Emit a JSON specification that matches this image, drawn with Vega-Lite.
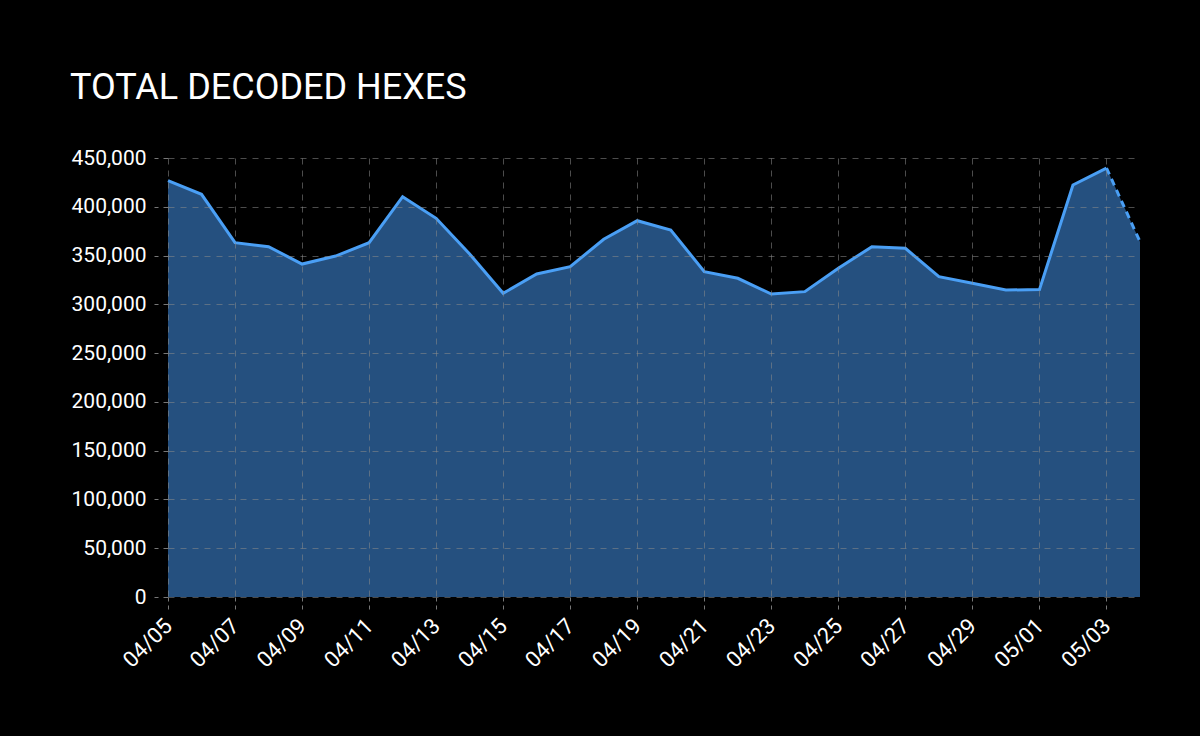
{
  "$schema": "https://vega.github.io/schema/vega-lite/v6.json",
  "autosize": {"type": "none"},
  "width": 972,
  "height": 439,
  "padding": {"left": 168, "top": 158, "right": 60, "bottom": 139},
  "background": "#000000",
  "config": {"view": {"stroke": null}, "font": "Roboto"},
  "title": {
    "text": "TOTAL DECODED HEXES",
    "anchor": "start",
    "frame": "group",
    "dx": -98,
    "offset": 40,
    "color": "#ffffff",
    "fontSize": 36,
    "fontWeight": "normal",
    "font": "Roboto"
  },
  "data": {
    "values": [
      {"date": "2023-04-05", "value": 426700},
      {"date": "2023-04-06", "value": 412800},
      {"date": "2023-04-07", "value": 363200},
      {"date": "2023-04-08", "value": 359100},
      {"date": "2023-04-09", "value": 341300},
      {"date": "2023-04-10", "value": 349500},
      {"date": "2023-04-11", "value": 363200},
      {"date": "2023-04-12", "value": 410300},
      {"date": "2023-04-13", "value": 388200},
      {"date": "2023-04-14", "value": 351600},
      {"date": "2023-04-15", "value": 311300},
      {"date": "2023-04-16", "value": 331100},
      {"date": "2023-04-17", "value": 338600},
      {"date": "2023-04-18", "value": 366700},
      {"date": "2023-04-19", "value": 385700},
      {"date": "2023-04-20", "value": 376200},
      {"date": "2023-04-21", "value": 333500},
      {"date": "2023-04-22", "value": 326700},
      {"date": "2023-04-23", "value": 310600},
      {"date": "2023-04-24", "value": 313000},
      {"date": "2023-04-25", "value": 336900},
      {"date": "2023-04-26", "value": 359100},
      {"date": "2023-04-27", "value": 357400},
      {"date": "2023-04-28", "value": 328300},
      {"date": "2023-04-29", "value": 321600},
      {"date": "2023-04-30", "value": 314700},
      {"date": "2023-05-01", "value": 315100},
      {"date": "2023-05-02", "value": 422300},
      {"date": "2023-05-03", "value": 439700},
      {"date": "2023-05-04", "value": 364200}
    ]
  },
  "encoding": {
    "x": {
      "field": "date",
      "type": "temporal",
      "scale": {
        "type": "utc",
        "domain": [
          {"year": 2023, "month": 4, "date": 5, "utc": true},
          {"year": 2023, "month": 5, "date": 4, "utc": true}
        ]
      },
      "axis": {
        "title": null,
        "values": [
          {"year": 2023, "month": 4, "date": 5, "utc": true},
          {"year": 2023, "month": 4, "date": 7, "utc": true},
          {"year": 2023, "month": 4, "date": 9, "utc": true},
          {"year": 2023, "month": 4, "date": 11, "utc": true},
          {"year": 2023, "month": 4, "date": 13, "utc": true},
          {"year": 2023, "month": 4, "date": 15, "utc": true},
          {"year": 2023, "month": 4, "date": 17, "utc": true},
          {"year": 2023, "month": 4, "date": 19, "utc": true},
          {"year": 2023, "month": 4, "date": 21, "utc": true},
          {"year": 2023, "month": 4, "date": 23, "utc": true},
          {"year": 2023, "month": 4, "date": 25, "utc": true},
          {"year": 2023, "month": 4, "date": 27, "utc": true},
          {"year": 2023, "month": 4, "date": 29, "utc": true},
          {"year": 2023, "month": 5, "date": 1, "utc": true},
          {"year": 2023, "month": 5, "date": 3, "utc": true}
        ],
        "labelExpr": "utcFormat(datum.value, '%m/%d')",
        "labelAngle": -45,
        "labelAlign": "right",
        "labelBaseline": "middle",
        "labelColor": "#ffffff",
        "labelFontSize": 22,
        "labelPadding": 10,
        "labelOverlap": false,
        "domain": false,
        "tickSize": 15,
        "tickColor": "#777777",
        "tickDash": [4, 4],
        "grid": true,
        "gridColor": "#8a8a8a",
        "gridOpacity": 0.55,
        "gridDash": [6, 6],
        "zindex": 1
      }
    },
    "y": {
      "field": "value",
      "type": "quantitative",
      "scale": {"domain": [0, 450000], "nice": false},
      "axis": {
        "title": null,
        "values": [0, 50000, 100000, 150000, 200000, 250000, 300000, 350000, 400000, 450000],
        "format": ",.0f",
        "labelColor": "#ffffff",
        "labelFontSize": 21,
        "labelPadding": 8,
        "domain": false,
        "tickSize": 14,
        "tickColor": "#777777",
        "tickDash": [5, 5],
        "grid": true,
        "gridColor": "#8a8a8a",
        "gridOpacity": 0.55,
        "gridDash": [6, 6],
        "zindex": 1
      }
    }
  },
  "layer": [
    {"mark": {"type": "area", "color": "#25507f", "opacity": 1}},
    {
      "transform": [{"filter": "time(datum.date) <= time('2023-05-03')"}],
      "mark": {"type": "line", "color": "#4a9ff5", "strokeWidth": 3}
    },
    {
      "transform": [{"filter": "time(datum.date) >= time('2023-05-03')"}],
      "mark": {"type": "line", "color": "#4a9ff5", "strokeWidth": 3, "strokeDash": [7, 5]}
    }
  ]
}
